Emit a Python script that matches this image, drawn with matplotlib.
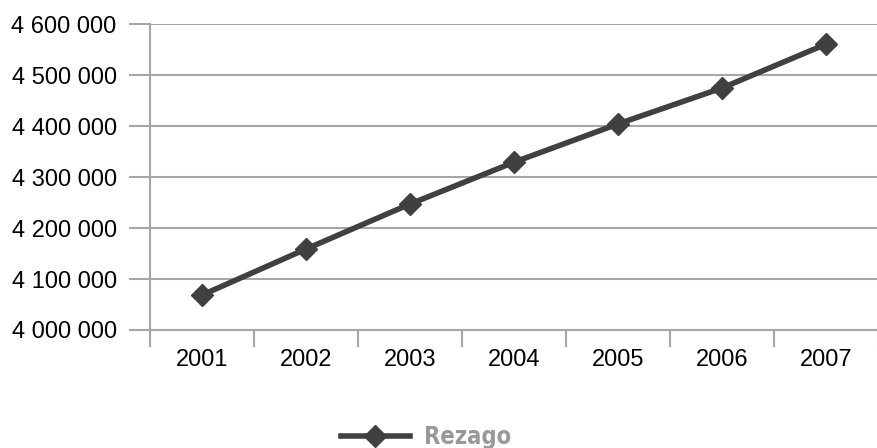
import matplotlib.pyplot as plt
from matplotlib.ticker import FuncFormatter, FixedLocator
import numpy as np

years = ["2001", "2002", "2003", "2004", "2005", "2006", "2007"]
rezago = [4068500, 4158800, 4247000, 4329000, 4404000, 4474500, 4560500]
y_ticks = [4000000, 4100000, 4200000, 4300000, 4400000, 4500000, 4600000]

plt.rcParams['font.family'] = ['Liberation Sans', 'DejaVu Sans']

fig = plt.figure(figsize=(8.78, 4.48), dpi=100)
ax = fig.add_axes([150 / 878, 1 - 330 / 448, 1 - 150 / 878, (330 - 24) / 448])

grid_color = "#a6a6a6"
x = np.arange(len(years))
line, = ax.plot(x, rezago, color="#404040", linewidth=4, marker="D",
                markersize=11, label="Rezago", zorder=3, clip_on=False)

ax.set_xlim(-0.5, len(years) - 0.5)
ax.set_ylim(y_ticks[0], y_ticks[-1])
ax.set_yticks(y_ticks)
ax.yaxis.set_major_formatter(FuncFormatter(lambda v, p: f"{int(v):,}".replace(",", " ")))
ax.set_xticks(x)
ax.set_xticklabels(years)
ax.xaxis.set_minor_locator(FixedLocator(np.arange(-0.5, len(years), 1.0)))

ax.grid(axis="y", color=grid_color, linewidth=1.5)
ax.set_axisbelow(True)
for s in ["top", "right"]:
    ax.spines[s].set_visible(False)
ax.spines["left"].set_color(grid_color)
ax.spines["left"].set_linewidth(1.5)
ax.spines["bottom"].set_color(grid_color)
ax.spines["bottom"].set_linewidth(1.5)

ax.tick_params(axis="y", which="major", length=15, width=1.5, color=grid_color,
               labelsize=17, pad=9)
ax.tick_params(axis="x", which="major", length=0, labelsize=17, pad=14)
ax.tick_params(axis="x", which="minor", length=12, width=1.5, color=grid_color)

leg = fig.legend(handles=[line], loc="center left", bbox_to_anchor=(320 / 878, 1 - 437 / 448),
                 frameon=False, handlelength=2.9, handletextpad=0.6,
                 prop={'family': ['Liberation Sans Narrow', 'DejaVu Sans'],
                       'weight': 'bold', 'size': 17, 'stretch': 'condensed'})
for t in leg.get_texts():
    t.set_color("#999999")

fig.savefig("out.png", dpi=100)
